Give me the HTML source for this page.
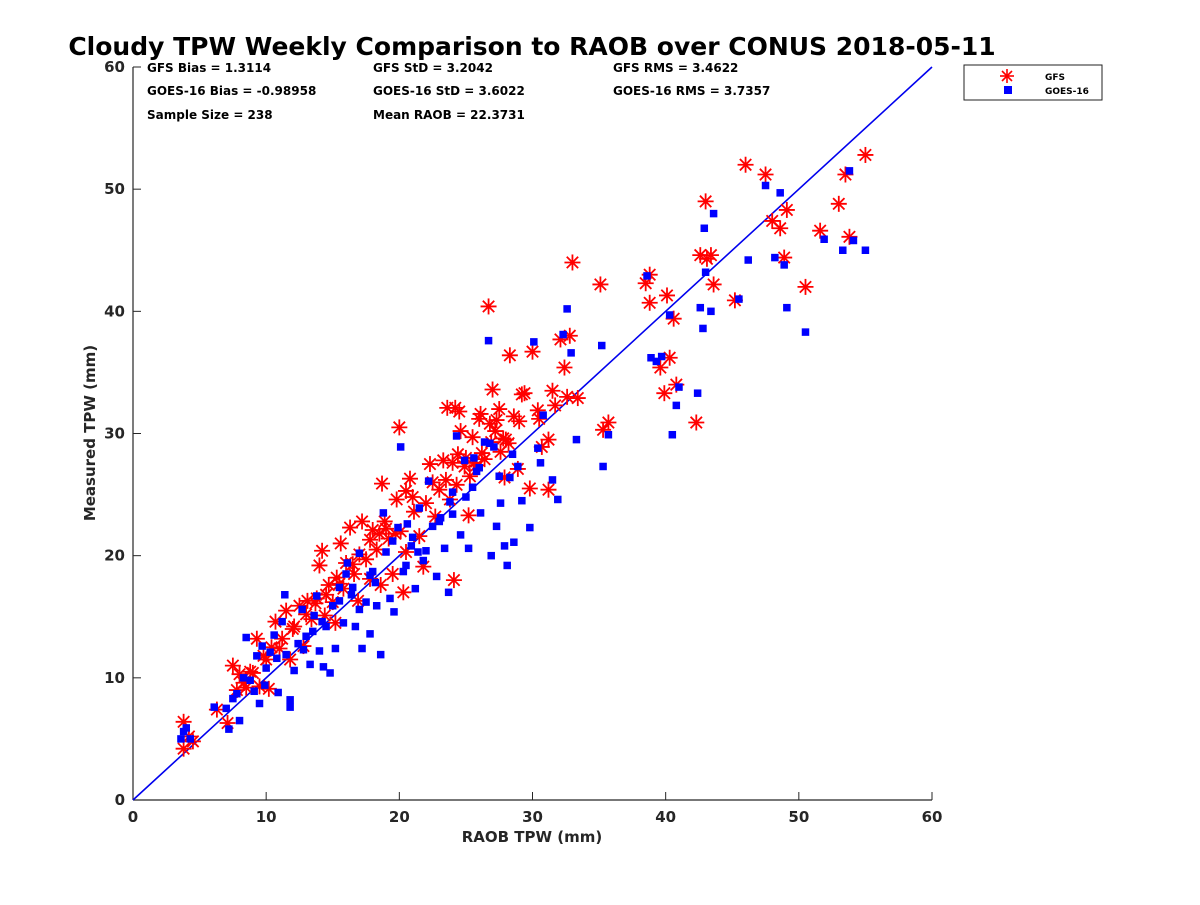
<!DOCTYPE html>
<html><head><meta charset="utf-8"><style>
html,body{margin:0;padding:0;background:#fff;}
svg text{font-family:"DejaVu Sans","Liberation Sans",sans-serif;font-weight:bold;}
</style></head><body>
<svg id="chart" width="1200" height="900" xmlns="http://www.w3.org/2000/svg">
<rect width="1200" height="900" fill="#fff"/>
<text x="532" y="55" font-size="25" text-anchor="middle" fill="#000">Cloudy TPW Weekly Comparison to RAOB over CONUS 2018-05-11</text>
<g font-size="12" fill="#000">
<text x="147" y="72">GFS Bias = 1.3114</text>
<text x="147" y="95">GOES-16 Bias = -0.98958</text>
<text x="147" y="119">Sample Size = 238</text>
<text x="373" y="72">GFS StD = 3.2042</text>
<text x="373" y="95">GOES-16 StD = 3.6022</text>
<text x="373" y="119">Mean RAOB = 22.3731</text>
<text x="613" y="72">GFS RMS = 3.4622</text>
<text x="613" y="95">GOES-16 RMS = 3.7357</text>
</g>
<g id="axes"></g>
<g id="marks"></g>
<g>
<rect x="964" y="65" width="138" height="35" fill="#fff" stroke="#222" stroke-width="1"/>
<g stroke="#f00" stroke-width="1.6">
<line x1="1007" y1="69" x2="1007" y2="83"/><line x1="1000" y1="76" x2="1014" y2="76"/>
<line x1="1002" y1="71" x2="1012" y2="81"/><line x1="1002" y1="81" x2="1012" y2="71"/></g>
<rect x="1004" y="86" width="8" height="8" fill="#00f"/>
<text x="1045" y="80" font-size="9">GFS</text>
<text x="1045" y="94" font-size="9">GOES-16</text>
</g>
</svg>
<script>
const xTicks=[0,10,20,30,40,50,60];
const yTicks=[0,10,20,30,40,50,60];
const gfsX=[3.8,3.8,4.5,4.2,6.3,7.1,7.5,7.8,8.0,8.3,8.8,9.3,9.5,9.8,10.2,10.4,10.7,11.2,11.5,11.8,12.1,12.5,12.8,13.1,13.4,13.7,14.0,14.2,14.4,14.7,15.0,15.2,15.3,15.6,15.8,16.0,16.3,16.6,16.9,17.2,17.5,17.8,18.0,18.3,18.6,18.7,18.9,19.2,19.5,19.8,20.0,20.1,20.3,20.5,20.8,21.1,21.5,21.8,22.0,22.3,22.7,23.0,23.3,23.6,23.8,24.1,24.2,24.4,24.6,24.9,25.2,25.5,25.8,26.1,26.4,26.7,26.9,27.0,27.3,27.6,27.9,28.2,28.3,28.6,28.9,29.2,29.4,29.8,30.0,30.4,30.7,31.2,31.2,31.7,32.1,32.4,32.6,33.0,33.4,35.1,35.3,35.7,38.5,38.8,38.8,39.6,39.9,40.1,40.3,40.6,40.8,42.3,42.6,43,43.1,43.4,43.6,45.2,46,47.5,48,48.6,49.1,48.9,50.5,51.6,53,53.5,53.8,55,25,25.6,26.2,27.2,27.8,26.8,24,23.5,22.5,21,19,18.5,17,16.5,15.5,14.5,13.8,13,12,11,10,9,8.5,17.8,19.7,20.5,24.3,25.3,28,29,30.5,31.5,24.5,26,27.5,32.8];
const gfsY=[4.2,6.4,4.8,5.2,7.4,6.3,11,9,10.3,9.6,10.5,13.2,9.3,11.8,9.1,12.5,14.6,13.2,15.5,11.5,14.2,15.9,12.6,16.3,14.8,16.1,19.2,20.4,15.1,17.6,16.2,14.5,18.2,21,17.3,19.4,22.3,18.5,16.3,22.8,19.7,18.1,22.1,20.5,17.6,25.9,22.8,21.4,18.5,24.6,30.5,22,17,25.3,26.3,23.6,21.6,19.1,24.3,27.5,23.2,25.4,27.8,32.1,24.6,18.0,32.1,28.3,30.2,27.3,23.3,29.7,27.4,31.6,27.9,40.4,29.3,33.6,31.1,28.5,26.4,29.2,36.4,31.4,27.1,33.2,33.3,25.5,36.7,31.9,28.9,25.4,29.5,32.3,37.7,35.4,33,44,32.9,42.2,30.3,30.9,42.3,43,40.7,35.4,33.3,41.3,36.2,39.4,34,30.9,44.6,49,44.3,44.6,42.2,40.9,52,51.2,47.4,46.8,48.3,44.4,42,46.6,48.8,51.2,46.1,52.8,28,27.6,28.4,30.2,29.6,30.8,27.6,26.2,26,24.8,22.2,21.8,20.1,19.3,17.7,16.8,16.5,15.2,14,12.4,11.5,10.4,9.2,21.3,21.8,20.3,25.8,26.5,29.5,31,31.2,33.5,31.8,31.2,32,38.0];
const goesX=[3.6,3.8,4.0,4.3,6.1,7.0,7.2,7.5,7.8,8.0,8.3,8.5,8.8,9.1,9.3,9.5,9.7,10.0,10.3,10.6,10.9,11.2,11.4,11.8,11.8,12.1,12.4,12.7,13,13.3,13.6,13.8,14.0,14.3,14.5,14.8,15.0,15.2,15.5,15.8,16.1,16.4,16.7,17.0,17.2,17.5,17.8,18.0,18.3,18.6,18.8,19.0,19.3,19.6,19.9,20.1,20.3,20.6,20.9,21.2,21.5,21.8,22.2,22.5,22.8,23.1,23.4,23.7,24.0,24.3,24.6,24.9,25.2,25.5,25.8,26.1,26.4,26.7,26.9,27.1,27.3,27.6,27.9,28.1,28.3,28.6,28.9,29.2,29.8,30.1,30.4,30.8,31.5,31.9,32.3,32.6,32.9,33.3,35.2,35.3,35.7,38.6,38.9,39.3,39.7,40.3,40.5,40.8,41,42.4,42.6,42.8,42.9,43.0,43.4,43.6,45.5,46.2,47.5,48.2,48.6,48.9,49.1,50.5,51.9,53.3,53.8,54.1,55.0,16,16.5,17,18.2,19.5,20.5,21,22,23,24,25,26,26.8,27.5,14.2,13.5,12.8,11.5,10.8,9.9,15.5,17.8,21.4,23.8,25.6,28.5,30.6];
const goesY=[5.0,5.6,5.9,5.0,7.6,7.5,5.8,8.3,8.7,6.5,10,13.3,9.8,8.9,11.8,7.9,12.6,10.8,12.1,13.5,8.8,14.6,16.8,7.6,8.2,10.6,12.8,15.6,13.4,11.1,15.1,16.7,12.2,10.9,14.2,10.4,15.9,12.4,17.4,14.5,19.4,16.8,14.2,20.2,12.4,16.2,13.6,18.7,15.9,11.9,23.5,20.3,16.5,15.4,22.3,28.9,18.7,22.6,20.8,17.3,23.9,19.6,26.1,22.4,18.3,23.1,20.6,17,25.2,29.8,21.7,27.8,20.6,25.6,26.9,23.5,29.3,37.6,20.0,28.9,22.4,24.3,20.8,19.2,26.4,21.1,27.3,24.5,22.3,37.5,28.8,31.5,26.2,24.6,38.1,40.2,36.6,29.5,37.2,27.3,29.9,42.9,36.2,35.9,36.3,39.7,29.9,32.3,33.8,33.3,40.3,38.6,46.8,43.2,40.0,48.0,41.0,44.2,50.3,44.4,49.7,43.8,40.3,38.3,45.9,45.0,51.5,45.8,45.0,18.5,17.4,15.6,17.8,21.2,19.2,21.5,20.4,22.8,23.4,24.8,27.2,29.2,26.5,14.6,13.8,12.3,11.9,11.6,9.4,16.3,18.4,20.3,24.4,28.0,28.3,27.6];

const NS='http://www.w3.org/2000/svg';
const X0=133,X1=932,Y0=800,Y1=67;
function sx(v){return X0+(v-0)/(60-0)*(X1-X0);}
function sy(v){return Y0-(v-0)/(60-0)*(Y0-Y1);}
function mk(tag,attrs,parent){const e=document.createElementNS(NS,tag);for(const k in attrs)e.setAttribute(k,attrs[k]);parent.appendChild(e);return e;}
const axes=document.getElementById('axes');
const marks=document.getElementById('marks');
let a=mk('line',{x1:X0,y1:Y0,x2:X1,y2:Y0,stroke:'#262626','stroke-width':1.2},axes);


a=mk('line',{x1:X0,y1:Y0,x2:X0,y2:Y1,stroke:'#262626','stroke-width':1.2},axes);


xTicks.forEach(t=>{
 const l=mk('line',{x1:sx(t),y1:Y0,x2:sx(t),y2:Y0-8,stroke:'#262626','stroke-width':1},axes);
 
 
 const tx=mk('text',{x:sx(t),y:Y0+22,'font-size':15,'text-anchor':'middle',fill:'#262626'},axes);
 tx.textContent=t;
 
 
});
yTicks.forEach(t=>{
 const l=mk('line',{x1:X0,y1:sy(t),x2:X0+8,y2:sy(t),stroke:'#262626','stroke-width':1},axes);
 
 
 const tx=mk('text',{x:X0-8,y:sy(t)+5,'font-size':15,'text-anchor':'end',fill:'#262626'},axes);
 tx.textContent=t;
 
 
});
let lab=mk('text',{x:532,y:842,'font-size':15,'text-anchor':'middle',fill:'#262626'},axes);
lab.textContent='RAOB TPW (mm)';


lab=mk('text',{x:95,y:433,'font-size':15,'text-anchor':'middle',fill:'#262626',transform:'rotate(-90 95 433)'},axes);
lab.textContent='Measured TPW (mm)';


const ref=mk('line',{x1:sx(0),y1:sy(0),x2:sx(60),y2:sy(60),stroke:'#0000ee','stroke-width':1.6},marks);


gfsX.forEach((xv,i)=>{
 const cx=sx(xv),cy=sy(gfsY[i]),r=8,d=5.7;
 const g=mk('g',{stroke:'#f00','stroke-width':1.8},marks);
 
 
 mk('line',{x1:cx,y1:cy-r,x2:cx,y2:cy+r},g);
 mk('line',{x1:cx-r,y1:cy,x2:cx+r,y2:cy},g);
 mk('line',{x1:cx-d,y1:cy-d,x2:cx+d,y2:cy+d},g);
 mk('line',{x1:cx-d,y1:cy+d,x2:cx+d,y2:cy-d},g);
});
goesX.forEach((xv,i)=>{
 const s=mk('rect',{x:sx(xv)-3.75,y:sy(goesY[i])-3.75,width:7.5,height:7.5,fill:'#00f'},marks);
 
 
});
</script>
</body></html>
